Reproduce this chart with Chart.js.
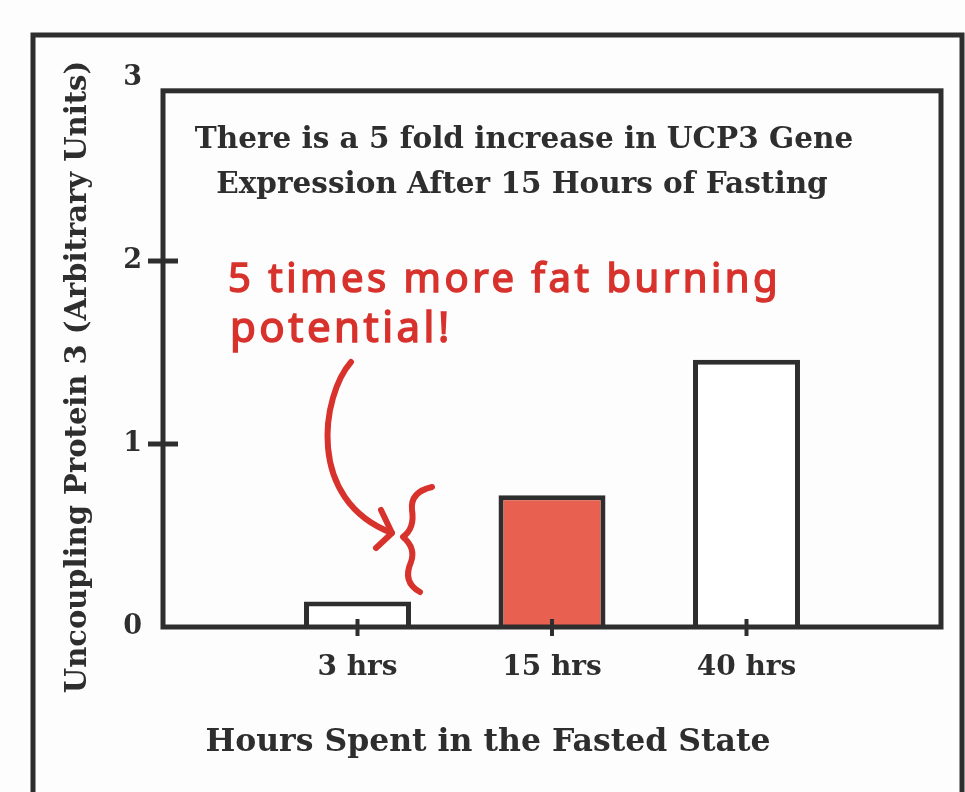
<!DOCTYPE html>
<html lang="en">
<head>
<meta charset="UTF-8">
<title>UCP3 Gene Expression</title>
<script src="https://cdn.jsdelivr.net/npm/chart.js"></script>
<style>
  body { margin: 0; background: #fdfdfd; }
  #wrap { width: 965px; height: 792px; }
</style>
</head>
<body>
<div id="wrap"><canvas id="ucpChart"></canvas></div>
<script>
  const hours = ['3 hrs', '15 hrs', '40 hrs'];
  const ucp3 = [0.14, 0.72, 1.46];
  const barFill = ['#ffffff', '#e8604f', '#ffffff'];
  const yTicks = [0, 1, 2, 3];
  const chartTitle = ['There is a 5 fold increase in UCP3 Gene', 'Expression After 15 Hours of Fasting'];
  const note = ['5 times more fat burning', 'potential!'];
  const xTitle = 'Hours Spent in the Fasted State';
  const yTitle = 'Uncoupling Protein 3 (Arbitrary Units)';

  const ink = '#2e2e2e';
  const pen = '#d8322d';
  const serif = '"DejaVu Serif", "Liberation Serif", serif';

  // empty slots on both ends so the bars land where the original has them
  const labels = ['', ...hours, ''];
  const values = [null, ...ucp3, null];
  const fills = ['#fff', ...barFill, '#fff'];

  function line(ctx, x1, y1, x2, y2) {
    ctx.beginPath();
    ctx.moveTo(x1, y1);
    ctx.lineTo(x2, y2);
    ctx.stroke();
  }

  const frame = {
    id: 'frame',
    afterDatasetsDraw(chart) {
      const { ctx, chartArea: a, scales: { x, y } } = chart;
      ctx.save();
      ctx.strokeStyle = ink;
      ctx.lineWidth = 5;

      // outer frame runs off the bottom of the page
      ctx.strokeRect(33, 35, 929, 800);

      // plot box, top edge sits a bit under the "3"
      const top = y.getPixelForValue(2.93);
      ctx.strokeRect(a.left, top, a.right - a.left, a.bottom - top);

      // y ticks cross the axis line
      yTicks.filter(v => v > 0 && v < 3).forEach(v => {
        const py = y.getPixelForValue(v);
        line(ctx, a.left - 15, py, a.left + 15, py);
      });

      // small x ticks under each bar
      ctx.lineWidth = 4;
      hours.forEach((h, i) => {
        const px = x.getPixelForValue(i + 1);
        line(ctx, px, a.bottom - 8, px, a.bottom + 9);
      });
      ctx.restore();
    },
    afterDraw(chart) {
      const { ctx } = chart;
      ctx.save();
      ctx.fillStyle = ink;
      ctx.textAlign = 'center';
      ctx.textBaseline = 'middle';

      ctx.font = 'bold 29.5px ' + serif;
      ctx.fillText(chartTitle[0], 524, 140);
      ctx.fillText(chartTitle[1], 522, 185);

      ctx.font = 'bold 31.5px ' + serif;
      ctx.fillText(xTitle, 488, 743);

      ctx.save();
      ctx.translate(78, 377);
      ctx.rotate(-Math.PI / 2);
      ctx.font = 'bold 29px ' + serif;
      ctx.fillText(yTitle, 0, 0);
      ctx.restore();

      // red handwritten note
      ctx.fillStyle = pen;
      ctx.strokeStyle = pen;
      ctx.lineWidth = 1.5;
      ctx.textAlign = 'left';
      ctx.textBaseline = 'alphabetic';
      ctx.letterSpacing = '3.5px';
      ctx.font = '40px "Noto Sans", sans-serif';
      ctx.fillText(note[0], 228, 292);
      ctx.strokeText(note[0], 228, 292);
      ctx.font = '42px "Noto Sans", sans-serif';
      ctx.fillText(note[1], 230, 342);
      ctx.strokeText(note[1], 230, 342);

      ctx.lineWidth = 6;
      ctx.lineCap = 'round';
      ctx.lineJoin = 'round';
      ctx.beginPath();
      ctx.moveTo(351, 362);
      ctx.bezierCurveTo(322, 395, 305, 500, 392, 533);
      ctx.stroke();
      ctx.beginPath();
      ctx.moveTo(381, 510);
      ctx.lineTo(392, 533);
      ctx.lineTo(376, 548);
      ctx.stroke();

      // curly brace next to the 3 hrs bar
      ctx.beginPath();
      ctx.moveTo(432, 487);
      ctx.quadraticCurveTo(410, 492, 412, 510);
      ctx.quadraticCurveTo(415, 528, 403, 537);
      ctx.quadraticCurveTo(416, 548, 411, 562);
      ctx.quadraticCurveTo(402, 582, 420, 592);
      ctx.stroke();
      ctx.restore();
    }
  };

  new Chart(document.getElementById('ucpChart'), {
    type: 'bar',
    data: {
      labels: labels,
      datasets: [{
        data: values,
        backgroundColor: fills,
        borderColor: ink,
        borderWidth: 5,
        borderSkipped: 'bottom',
        barPercentage: 0.55,
        categoryPercentage: 1
      }]
    },
    options: {
      responsive: true,
      maintainAspectRatio: false,
      animation: false,
      layout: { padding: { top: 78, right: 15, left: 0, bottom: 0 } },
      plugins: { legend: { display: false }, tooltip: { enabled: false } },
      scales: {
        x: {
          offset: false,
          grid: { display: false, drawTicks: false },
          border: { display: false },
          ticks: {
            color: ink,
            font: { family: serif, size: 28, weight: 'bold' },
            padding: 24,
            maxRotation: 0,
            autoSkip: false
          },
          afterFit(s) { s.height = 165; }
        },
        y: {
          min: 0,
          max: 3,
          grid: { display: false, drawTicks: false },
          border: { display: false },
          afterBuildTicks(s) { s.ticks = yTicks.map(v => ({ value: v })); },
          ticks: {
            color: ink,
            font: { family: serif, size: 27, weight: 'bold' },
            padding: 21
          },
          afterFit(s) { s.width = 163; }
        }
      }
    },
    plugins: [frame]
  });
</script>
</body>
</html>
